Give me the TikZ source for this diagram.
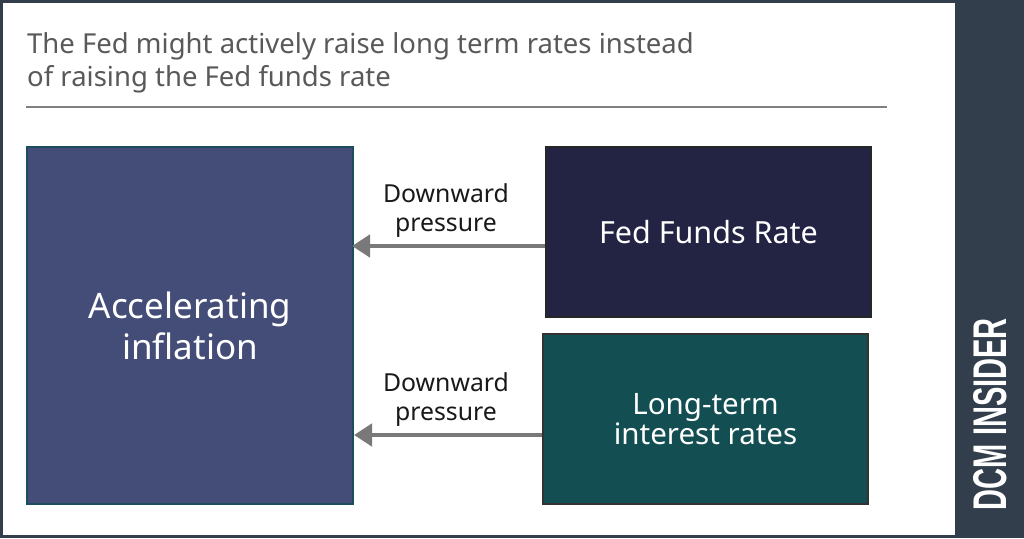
\documentclass[tikz,border=0pt]{standalone}
\usepackage{fontspec}
\setmainfont{Noto Sans}
\newfontfamily\brandfont{Liberation Sans}
\usetikzlibrary{arrows.meta}
\definecolor{slate}{HTML}{323E4C}
\definecolor{inflblue}{HTML}{434D78}
\definecolor{fednavy}{HTML}{232344}
\definecolor{ltteal}{HTML}{134E52}
\begin{document}
\begin{tikzpicture}[x=1pt, y=-1pt,
	bigbox/.style={draw, line width=2pt, text=white, align=center, anchor=north west, inner sep=0pt},
	push/.style={draw=gray!95!black, line width=4.5pt, -{Triangle[length=18pt, width=22pt]}},
	pushlabel/.style={align=center, font=\fontsize{24.8}{29}\selectfont, text=black!90}]
	\useasboundingbox (0, 0) rectangle (1024, 538);
	\fill[slate] (0, 0) rectangle (1024, 538);
	\fill[white] (3, 3) rectangle (955, 535);
	\node[anchor=north west, align=left, inner sep=0pt, text=black!65, font=\fontsize{27.5}{33}\selectfont] (title) at (27, 32)
		{The Fed might actively raise long term rates instead\\of raising the Fed funds rate};
	\draw[gray, line width=1.5pt] (26, 107) -- (887, 107);
	\node[bigbox, fill=inflblue, draw=black!40!teal!60!inflblue, minimum width=326pt, minimum height=357pt, font=\fontsize{35}{41}\selectfont] (infl) at (26, 146) {Accelerating\\inflation};
	\node[bigbox, fill=fednavy, draw=black!70!gray, minimum width=325pt, minimum height=170pt, font=\fontsize{30.5}{36}\selectfont] (ffr) at (545, 146) {Fed Funds Rate};
	\node[bigbox, fill=ltteal, draw=black!80, minimum width=325pt, minimum height=170pt, font=\fontsize{29.5}{30}\selectfont] (ltr) at (542, 333) {Long-term\\interest rates};
	\coordinate (t1) at (352, 246);
	\coordinate (t2) at (354, 435);
	\draw[push] (ffr.west |- t1) -- (t1);
	\draw[push] (ltr.west |- t2) -- (t2);
	\node[pushlabel] (lab1) at (446, 211) {Downward\\pressure};
	\node[pushlabel] (lab2) at (446, 400) {Downward\\pressure};
	\node[rotate=90, text=white] (brand) at (990, 414) {\resizebox{192pt}{33pt}{\brandfont\bfseries DCM INSIDER}};
\end{tikzpicture}
\end{document}
